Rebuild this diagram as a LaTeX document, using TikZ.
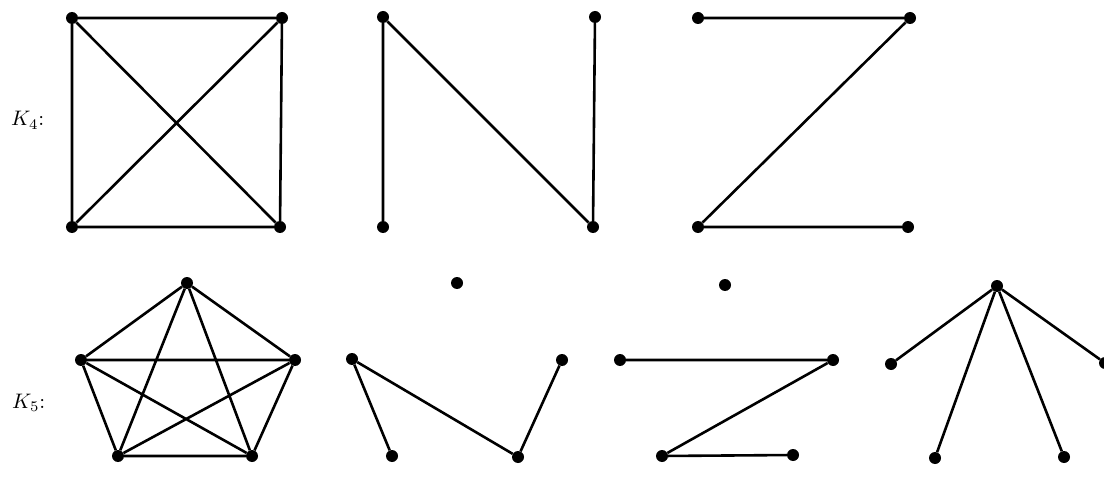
\documentclass[tikz,border=0pt]{standalone}
\begin{document}
\begin{tikzpicture}[x=1pt,y=-1pt,
  vtx/.style={circle,fill=black,inner sep=0pt,minimum size=12pt},
  edge/.style={line width=2.6pt},
  lbl/.style={inner sep=0pt,anchor=base west}]
\useasboundingbox (0,0) rectangle (1104,492);
% K4
\node[vtx] (a1) at (72,18) {};
\node[vtx] (a2) at (282,18) {};
\node[vtx] (a3) at (72,227) {};
\node[vtx] (a4) at (280,227) {};
\draw[edge] (a1)--(a2)--(a4)--(a3)--(a1) (a1)--(a4) (a2)--(a3);
\node[lbl] (l4) at (11,126) {\scalebox{2.1}{$K_4$:}};
% N
\node[vtx] (b1) at (383,17) {};
\node[vtx] (b2) at (595,17) {};
\node[vtx] (b3) at (383,227) {};
\node[vtx] (b4) at (593,227) {};
\draw[edge] (b3)--(b1)--(b4)--(b2);
% Z
\node[vtx] (c1) at (698,18) {};
\node[vtx] (c2) at (910,18) {};
\node[vtx] (c3) at (698,227) {};
\node[vtx] (c4) at (908,227) {};
\draw[edge] (c1)--(c2)--(c3)--(c4);
% K5
\node[vtx] (d1) at (187,283) {};
\node[vtx] (d2) at (81,360) {};
\node[vtx] (d3) at (295,360) {};
\node[vtx] (d4) at (118,456) {};
\node[vtx] (d5) at (252,456) {};
\draw[edge] (d1)--(d2) (d1)--(d3) (d1)--(d4) (d1)--(d5)
  (d2)--(d3) (d2)--(d4) (d2)--(d5) (d3)--(d4) (d3)--(d5) (d4)--(d5);
\node[lbl] (l5) at (12,408) {\scalebox{2.1}{$K_5$:}};
% second
\node[vtx] (e1) at (457,283) {};
\node[vtx] (e2) at (352,359) {};
\node[vtx] (e3) at (562,360) {};
\node[vtx] (e4) at (392,456) {};
\node[vtx] (e5) at (518,457) {};
\draw[edge] (e4)--(e2)--(e5)--(e3);
% third
\node[vtx] (f1) at (725,285) {};
\node[vtx] (f2) at (620,360) {};
\node[vtx] (f3) at (833,360) {};
\node[vtx] (f4) at (662,456) {};
\node[vtx] (f5) at (793,455) {};
\draw[edge] (f2)--(f3)--(f4)--(f5);
% fourth
\node[vtx] (g1) at (997,286) {};
\node[vtx] (g2) at (891,364) {};
\node[vtx] (g3) at (1105,363) {};
\node[vtx] (g4) at (935,458) {};
\node[vtx] (g5) at (1064,457) {};
\draw[edge] (g1)--(g2) (g1)--(g3) (g1)--(g4) (g1)--(g5);
\end{tikzpicture}
\end{document}
